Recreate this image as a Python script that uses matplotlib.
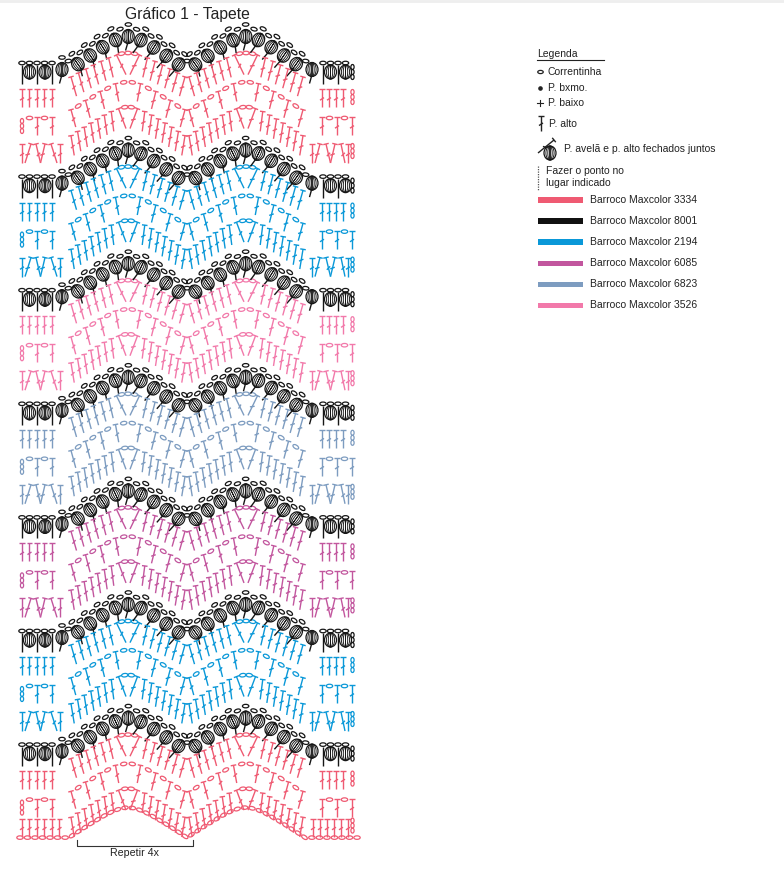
import numpy as np
import matplotlib
matplotlib.use('Agg')
import matplotlib.pyplot as plt
from matplotlib.collections import LineCollection
from matplotlib.patches import Ellipse, Rectangle

plt.rcParams['font.family'] = ['Liberation Sans', 'DejaVu Sans']

# ---------------------------------------------------------------------------
# chart content
title = 'Gráfico 1 - Tapete'
yarn_codes = ['3334', '8001', '2194', '6085', '6823', '3526']
yarn_colors = ['#ef5a72', '#111111', '#0a98d8', '#c2569e', '#7d9cc0', '#f279aa']
band_yarns = ['3334', '2194', '3526', '6823', '6085', '2194', '3334']   # top to bottom
symbol_labels = ['Correntinha', 'P. bxmo.', 'P. baixo', 'P. alto',
                 'P. avelã e p. alto fechados juntos', 'Fazer o ponto no\nlugar indicado']
legend_title = 'Legenda'
repeat_label = 'Repetir 4x'
chain_row_pattern = list('ToToToTooToToToT')   # chain-space row, one chevron

# ---------------------------------------------------------------------------
# layout (pixels, y down)
CENTERS = [128, 246]
HW = 59.0
R = 0.3
BAND0, BAND_STEP = 64.0, 113.6
BLACK = '#161616'
INK = '#222222'

fig = plt.figure(figsize=(7.84, 8.94), dpi=100)
ax = fig.add_axes([0, 0, 1, 1])
ax.set_xlim(0, 784)
ax.set_ylim(894, 0)
ax.axis('off')

segs = {}


def seg(col, p0, p1):
    segs.setdefault(col, []).append([p0, p1])


def wave(x, yv, amp):
    # rounded tent, peak at each chevron centre
    x = np.atleast_1d(np.asarray(x, float))
    y = np.full(x.shape, float(yv))
    top = np.sqrt(1 + R * R)
    for c in CENTERS:
        t = np.abs(x - c) / HW
        m = t < 1
        y[m] = yv - amp * (top - np.sqrt(t[m] ** 2 + R * R)) / (top - R)
    return y


def slope(x, yv, amp):
    return float((wave(x + 0.3, yv, amp) - wave(x - 0.3, yv, amp))[0] / 0.6)


def arc_x(x0, x1, yv, amp, n):
    xs = np.linspace(x0, x1, 800)
    ys = wave(xs, yv, amp)
    s = np.concatenate([[0], np.cumsum(np.hypot(np.diff(xs), np.diff(ys)))])
    return np.interp(np.linspace(0, s[-1], n), s, xs)


def stitch_T(xt, yt, xb, yb, col):
    seg(col, (xt, yt), (xb, yb))
    dx, dy = xb - xt, yb - yt
    L = np.hypot(dx, dy)
    ux, uy = dx / L, dy / L
    px, py = uy, -ux
    seg(col, (xt - 2.8 * px, yt - 2.8 * py), (xt + 2.8 * px, yt + 2.8 * py))
    mx, my = xt + 0.55 * dx, yt + 0.55 * dy
    seg(col, (mx - 2.0 * px + 1.3 * ux, my - 2.0 * py + 1.3 * uy),
        (mx + 2.0 * px - 1.3 * ux, my + 2.0 * py - 1.3 * uy))


def chain(x, y, ang, col, w=6.4, h=3.5):
    ax.add_patch(Ellipse((x, y), w, h, angle=ang, fill=False, ec=col, lw=0.9, zorder=2))


def chain_stack(x, y0, col, n=3):
    for k in range(n):
        chain(x, y0 + 5 * k, 90, col, 5.0, 3.2)


def puff(x, y, ang):
    ax.add_patch(Ellipse((x, y), 12, 14, angle=ang, fc='white', ec=BLACK, lw=0.9, zorder=3))
    for w in (8.2, 4.4, 0.05):
        ax.add_patch(Ellipse((x, y), w, 14, angle=ang, fill=False, ec=BLACK, lw=0.65, zorder=3))


def normal(s, tilt):
    nx = -s / np.hypot(s, 1.0) * tilt
    d = np.hypot(nx, 1.0)
    return nx / d, 1.0 / d


# ---------------------------------------------------------------------------
def black_row(yv):
    yc = yv + 1
    amp = 33
    xs = arc_x(62, 312, yc, amp, 20)
    ys = wave(xs, yc, amp)
    for i, (x, y) in enumerate(zip(xs, ys)):
        s = slope(x, yc, amp)
        ang = np.degrees(np.arctan(s))
        nx, ny = normal(s, 1.0)
        cx, cy = x + 4.5 * nx, y + 4.5 * ny
        seg(BLACK, (cx + 5 * nx, cy + 5 * ny), (cx + 14 * nx - 2.5, cy + 14 * ny))
        puff(cx, cy, ang)
        if i < len(xs) - 1:
            mx = 0.5 * (x + xs[i + 1])
            my = float(wave(mx, yc, amp)[0])
            sm = slope(mx, yc, amp)
            mnx, mny = normal(sm, 1.0)
            chain(mx - 4 * mnx, my - 4 * mny, np.degrees(np.arctan(sm)), BLACK)
            chain(x - 7.5 * nx, y - 7.5 * ny, ang, BLACK)
    # edges
    for x in [22, 29.5, 37, 44.5, 52]:
        chain(x, yv - 1, 0, BLACK)
    for x in [22, 37, 52]:
        seg(BLACK, (x, yv + 1), (x, yv + 20))
    for x in [29.5, 45]:
        puff(x, yv + 8, 0)
    for x in [323, 330.5, 338, 345.5]:
        chain(x, yv - 1, 0, BLACK)
    for x in [323, 338]:
        seg(BLACK, (x, yv + 1), (x, yv + 20))
    for x in [330.5, 345.5]:
        puff(x, yv + 8, 0)
    chain_stack(352.5, yv + 3, BLACK)


def t_row(yv, col, vo, amp, n_side, n_mid, inner, tilt, L):
    yc = yv + vo
    for c in CENTERS:
        left = arc_x(c - HW + 2, c - inner, yc, amp, n_side)
        for side in (-1, 1):
            xs = left if side == -1 else 2 * c - left
            for i, xt in enumerate(xs):
                yt = float(wave(xt, yc, amp)[0])
                nx, ny = normal(slope(xt, yc, amp), tilt)
                xb, yb = xt + L * nx, yt + L * ny
                if i == n_side - 1:
                    xb = c + side * 2.0
                stitch_T(xt, yt, xb, yb, col)
        for k in range(n_mid):
            xm = c + (k - (n_mid - 1) / 2) * 6.5
            ym = float(wave(xm, yc, amp)[0])
            chain(xm, ym, np.degrees(np.arctan(slope(xm, yc, amp))), col)


def chain_row(yv, col, vo, amp, L):
    yc = yv + vo
    for c in CENTERS:
        xs = arc_x(c - HW + 2, c + HW - 2, yc, amp, len(chain_row_pattern))
        for kind, xt in zip(chain_row_pattern, xs):
            yt = float(wave(xt, yc, amp)[0])
            s = slope(xt, yc, amp)
            if kind == 'T':
                nx, ny = normal(s, 0.5)
                stitch_T(xt, yt, xt + L * nx, yt + L * ny, col)
            else:
                chain(xt, yt + 1, np.degrees(np.arctan(s)), col)


def edge_rows(yv, col, last):
    # row 1
    for x in [22, 29.5, 37, 44.5, 52]:
        stitch_T(x, yv + 25, x, yv + 43, col)
    for x in [322, 329, 336, 343]:
        stitch_T(x, yv + 25, x, yv + 43, col)
    chain_stack(352.5, yv + 28, col)
    # row 2
    chain_stack(22, yv + 57, col)
    chain(29.5, yv + 54, 0, col)
    stitch_T(37, yv + 53, 37, yv + 71, col)
    chain(44.5, yv + 54, 0, col)
    stitch_T(52, yv + 53, 52, yv + 71, col)
    stitch_T(322, yv + 53, 322, yv + 71, col)
    chain(329.5, yv + 54, 0, col)
    stitch_T(337, yv + 53, 337, yv + 71, col)
    chain(344.5, yv + 54, 0, col)
    stitch_T(352, yv + 53, 352, yv + 71, col)
    # row 3
    if last:
        for x in [22, 29.5, 37, 44.5, 52, 59.5]:
            stitch_T(x, yv + 73, x, yv + 91, col)
        for x in [313, 320, 327, 334, 341, 348]:
            stitch_T(x, yv + 73, x, yv + 91, col)
    else:
        for xt, xb in zip([22, 31, 36, 45, 51, 60], [22, 25, 40.5, 40.5, 57, 60]):
            stitch_T(xt, yv + 80, xb, yv + 99, col)
        for xt, xb in zip([312, 320, 326, 335, 341, 348], [312, 315, 330.5, 330.5, 345, 348]):
            stitch_T(xt, yv + 80, xb, yv + 99, col)
    chain_stack(352.5, yv + 82 - (7 if last else 0), col)


color_of = dict(zip(yarn_codes, yarn_colors))
for k, code in enumerate(band_yarns):
    yv = BAND0 + BAND_STEP * k
    col = color_of[code]
    black_row(yv)
    t_row(yv, col, 14, 25, 7, 3, 11.5, 0.6, 20)
    chain_row(yv, col, 47, 30, 18)
    t_row(yv, col, 73, 30, 8, 2, 9.5, 0.3, 20)
    edge_rows(yv, col, k == len(band_yarns) - 1)

# foundation chain
yf = BAND0 + BAND_STEP * (len(band_yarns) - 1) + 92
found_col = color_of[band_yarns[-1]]
fx = arc_x(20, 357, yf, 30, 50)
for x in fx:
    chain(x, float(wave(x, yf, 30)[0]), np.degrees(np.arctan(slope(x, yf, 30))), found_col)

# title and repeat bracket
ax.text(187, 14, title, ha='center', va='center', fontsize=11.3, color=INK)
ax.plot([77, 77, 193, 193], [840, 846, 846, 840], color='#333333', lw=0.8)
ax.text(135, 853, repeat_label, ha='center', va='center', fontsize=7.7, color=INK)
ax.axhline(1, color='#eeeeee', lw=2)

# legend
ax.text(537, 54, legend_title, ha='left', va='center', fontsize=7.5, color=INK)
ax.plot([537, 604], [60, 60], color=INK, lw=0.8)
chain(540.5, 72, 0, INK, 5.5, 3.2)
ax.plot([540.5], [88], 'o', color=INK, ms=2.3)
ax.plot([537.5, 543.5], [103, 103], color=INK, lw=0.8)
ax.plot([540.5, 540.5], [100, 106], color=INK, lw=0.8)
stitch_T(541, 116, 541, 131, INK)
puff(550, 153, 0)
stitch_T(554, 140, 538, 153, INK)
ax.plot([538, 538], [166, 190], color='#555555', lw=0.9, ls=(0, (1, 1)))
ys_sym = [72, 88, 103, 124, 149]
xs_sym = [548, 548, 548, 549, 564]
for x, y, lab in zip(xs_sym, ys_sym, symbol_labels[:5]):
    ax.text(x, y, lab, ha='left', va='center', fontsize=7.5, color=INK)
ax.text(546, 177, symbol_labels[5], ha='left', va='center', fontsize=7.5, color=INK,
        linespacing=1.2)
for i, (code, col) in enumerate(zip(yarn_codes, yarn_colors)):
    y = 200 + 21.1 * i
    ax.add_patch(Rectangle((538, y - 2.8), 45, 5.6, color=col, lw=0))
    ax.text(590, y, 'Barroco Maxcolor ' + code, ha='left', va='center', fontsize=7.5,
            color=INK)

for col, s in segs.items():
    ax.add_collection(LineCollection(s, colors=col, linewidths=1.0, zorder=2.5, capstyle='butt'))

fig.savefig('out.png', dpi=100)
